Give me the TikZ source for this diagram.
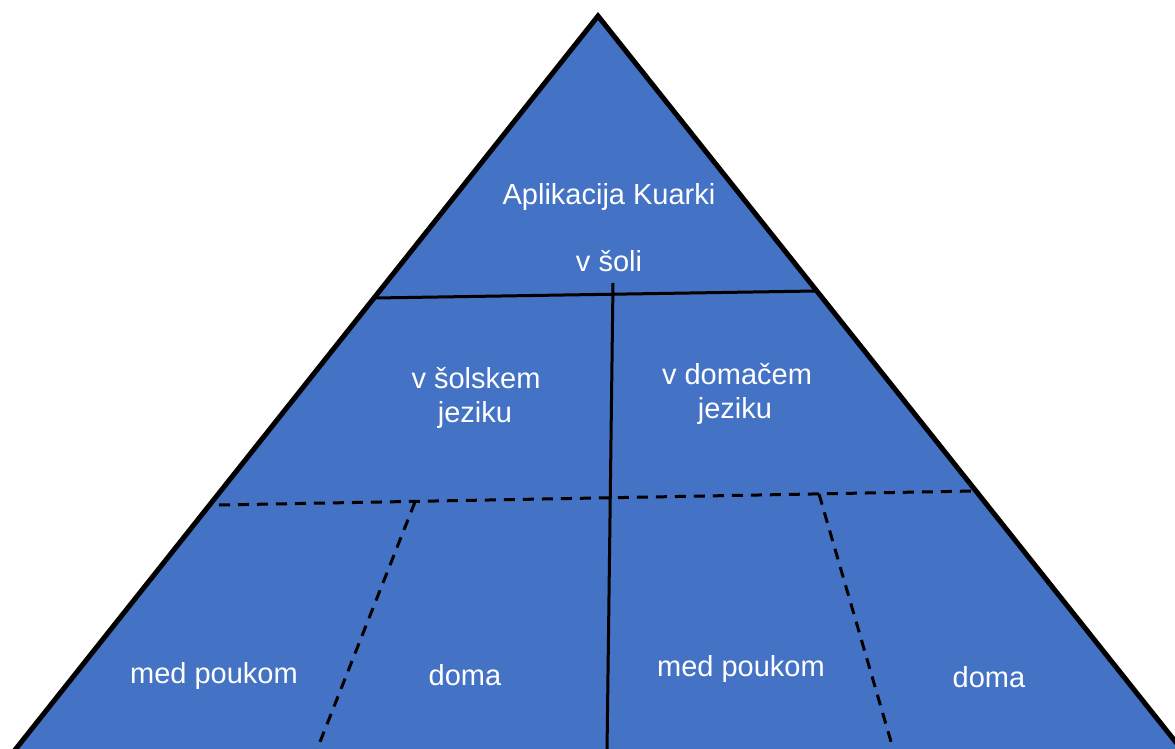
\documentclass[tikz,border=0pt]{standalone}
\usepackage{fontspec}
\setmainfont{Liberation Sans}
\definecolor{pyrblue}{HTML}{4472C4}
\begin{document}
\begin{tikzpicture}[x=1pt,y=-1pt,
  lbl/.style={text=white,font=\fontsize{29}{34}\selectfont,inner sep=0pt,anchor=base},
  solidline/.style={draw=black,line width=3pt},
  dashline/.style={draw=black,line width=3pt,dash pattern=on 11pt off 8pt}]
\useasboundingbox (0,0) rectangle (1175,749);
\clip (0,0) rectangle (1175,749);
% triangle corners
\coordinate (apex) at (598,16);
\coordinate (bl) at (7,760);
\coordinate (br) at (1190,760);
\filldraw[fill=pyrblue,draw=black,line width=5pt,line join=miter] (apex) -- (br) -- (bl) -- cycle;
% division points
\coordinate (h1l) at (375,298);
\coordinate (h1r) at (816,291);
\coordinate (vt) at (613,283);
\coordinate (vb) at (607,752);
\coordinate (h2l) at (219,505);
\coordinate (h2r) at (974,491);
\coordinate (d1t) at (415,502);
\coordinate (d1b) at (316,752);
\coordinate (d2t) at (819,494);
\coordinate (d2b) at (894,752);
\draw[solidline] (h1l) -- (h1r);
\draw[solidline] (vt) -- (vb);
\draw[dashline] (h2l) -- (h2r);
\draw[dashline] (d1t) -- (d1b);
\draw[dashline] (d2t) -- (d2b);
% labels
\node[lbl] (app) at (609,204) {Aplikacija Kuarki};
\node[lbl] (sol) at (609,271) {v šoli};
\node[lbl] (sj1) at (476,388) {v šolskem};
\node[lbl] (sj2) at (475,422) {jeziku};
\node[lbl] (dj1) at (737,384) {v domačem};
\node[lbl] (dj2) at (735,418) {jeziku};
\node[lbl] (mp1) at (214,683) {med poukom};
\node[lbl] (do1) at (465,685) {doma};
\node[lbl] (mp2) at (741,676) {med poukom};
\node[lbl] (do2) at (989,687) {doma};
\end{tikzpicture}
\end{document}
